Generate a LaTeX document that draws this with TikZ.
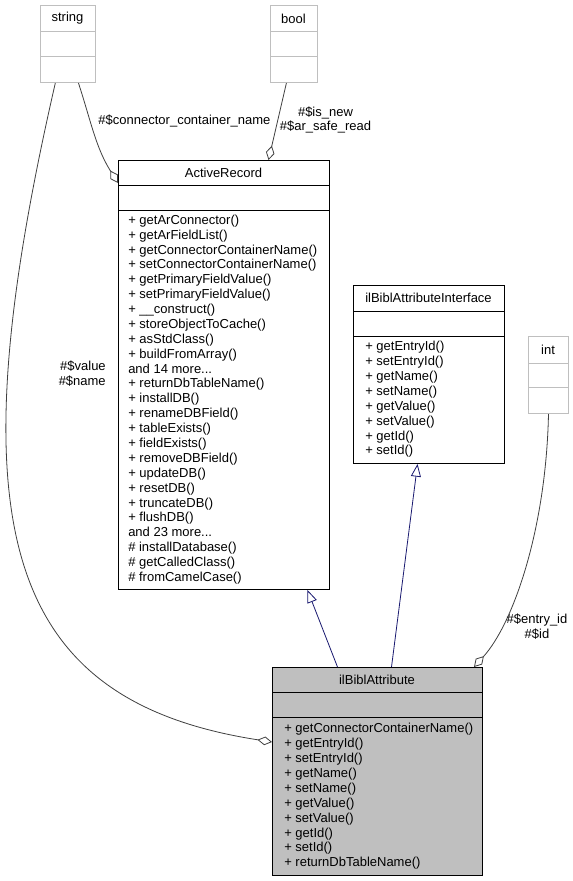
\documentclass[tikz,border=0pt]{standalone}
\usepackage{fontspec}
\setmainfont{Liberation Sans}
\usetikzlibrary{arrows.meta}
\definecolor{boxgrey}{HTML}{BFBFBF}
\definecolor{edgegrey}{HTML}{404040}
\definecolor{inhblue}{HTML}{191970}
\begin{document}
\begin{tikzpicture}[x=0.75pt,y=-0.75pt,
	cls/.style={draw=black,anchor=north west,inner sep=0pt,line width=0.75pt},
	typ/.style={cls,draw=boxgrey},
	txt/.style={inner sep=0pt,font=\fontsize{9.75}{11.16}\selectfont},
	ops/.style={txt,align=left,anchor=west},
	aggr/.style={draw=edgegrey,line width=0.6pt,-{Diamond[open,length=11pt,width=6.5pt]}},
	inh/.style={draw=inhblue,line width=0.6pt,-{Triangle[open,length=9.5pt,width=7.5pt]}}]
	
	\useasboundingbox[fill=white] (0,0) rectangle (573,881);
	
	\node[typ,minimum width=41.25pt,minimum height=57.75pt] (str) at (40,5) {};
	\node[txt] (str title) at (67.5,18.5) {string};
	\draw[boxgrey,line width=0.75pt] (str.north west) ++(0,27) -- ++(55,0) ++(-55,25) -- ++(55,0);
	
	\node[typ,minimum width=35.25pt,minimum height=57.75pt] (bool) at (270,5) {};
	\node[txt] (bool title) at (293.5,18.5) {bool};
	\draw[boxgrey,line width=0.75pt] (bool.north west) ++(0,27) -- ++(47,0) ++(-47,25) -- ++(47,0);
	
	\node[typ,minimum width=30pt,minimum height=57.75pt] (int) at (528,336) {};
	\node[txt] (int title) at (548,349.5) {int};
	\draw[boxgrey,line width=0.75pt] (int.north west) ++(0,27) -- ++(40,0) ++(-40,24) -- ++(40,0);
	
	\node[cls,minimum width=158.25pt,minimum height=321.75pt] (ar) at (118,160) {};
	\node[txt] (ar title) at (223.5,172.5) {ActiveRecord};
	\draw[line width=0.75pt] (ar.north west) ++(0,25) -- ++(211,0) ++(-211,25) -- ++(211,0);
	\node[ops] (ar ops) at (128,399.5) {+ getArConnector()\\+ getArFieldList()\\+ getConnectorContainerName()\\+ setConnectorContainerName()\\+ getPrimaryFieldValue()\\+ setPrimaryFieldValue()\\+ \_\_construct()\\+ storeObjectToCache()\\+ asStdClass()\\+ buildFromArray()\\and 14 more...\\+ returnDbTableName()\\+ installDB()\\+ renameDBField()\\+ tableExists()\\+ fieldExists()\\+ removeDBField()\\+ updateDB()\\+ resetDB()\\+ truncateDB()\\+ flushDB()\\and 23 more...\\\# installDatabase()\\\# getCalledClass()\\\# fromCamelCase()};
	
	\node[cls,minimum width=113.25pt,minimum height=133.5pt] (iface) at (353,285) {};
	\node[txt] (iface title) at (428.5,298) {ilBiblAttributeInterface};
	\draw[line width=0.75pt] (iface.north west) ++(0,26) -- ++(151,0) ++(-151,25) -- ++(151,0);
	\node[ops] (iface ops) at (365,399.5) {+ getEntryId()\\+ setEntryId()\\+ getName()\\+ setName()\\+ getValue()\\+ setValue()\\+ getId()\\+ setId()};
	
	\node[cls,fill=boxgrey,minimum width=157.5pt,minimum height=156pt] (attr) at (272,667) {};
	\node[txt] (attr title) at (377,680) {ilBiblAttribute};
	\draw[line width=0.75pt] (attr.north west) ++(0,25) -- ++(210,0) ++(-210,25) -- ++(210,0);
	\node[ops] (attr ops) at (284,796.5) {+ getConnectorContainerName()\\+ getEntryId()\\+ setEntryId()\\+ getName()\\+ setName()\\+ getValue()\\+ setValue()\\+ getId()\\+ setId()\\+ returnDbTableName()};
	
	\draw[aggr] (str.-75) to[out=-72,in=122] ([yshift=-17.25pt]ar.north west);
	\draw[aggr] (bool.-101) -- ([xshift=33.4pt]ar.north);
	\draw[aggr] (str.-108) .. controls (-45,520) and (0,700) .. ([yshift=-56.25pt]attr.north west);
	\draw[aggr] (int.south) .. controls (546,530) and (513,624) .. ([xshift=-6.75pt]attr.north east);
	\draw[inh] ([xshift=-30pt]attr.north) -- ([xshift=62.6pt]ar.south);
	\draw[inh] ([xshift=10.5pt]attr.north) -- ([xshift=-8.6pt]iface.south);
	
	\node[txt] (conn lbl) at (184.5,121) {\#\$connector\_container\_name};
	\node[txt,align=center] (bool lbl) at (325.5,120) {\#\$is\_new\\\#\$ar\_safe\_read};
	\node[txt,align=right,anchor=east] (str lbl) at (106,374) {\#\$value\\\#\$name};
	\node[txt,align=center] (int lbl) at (537,627) {\#\$entry\_id\\\#\$id};
	
\end{tikzpicture}
\end{document}
